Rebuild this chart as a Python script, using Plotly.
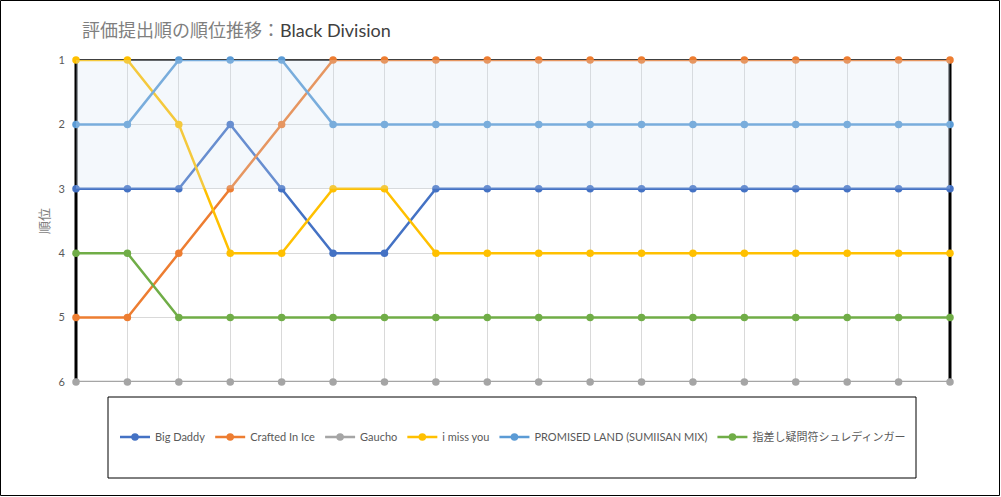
import plotly.graph_objects as go

# データ：評価提出順（18回）ごとの順位
steps = list(range(18))
names = ["Big Daddy", "Crafted In Ice", "Gaucho", "i miss you",
         "PROMISED LAND (SUMIISAN MIX)", "指差し疑問符シュレディンガー"]
big_daddy = [3, 3, 3, 2, 3, 4, 4, 3, 3, 3, 3, 3, 3, 3, 3, 3, 3, 3]
crafted_in_ice = [5, 5, 4, 3, 2, 1, 1, 1, 1, 1, 1, 1, 1, 1, 1, 1, 1, 1]
gaucho = [6, 6, 6, 6, 6, 6, 6, 6, 6, 6, 6, 6, 6, 6, 6, 6, 6, 6]
i_miss_you = [1, 1, 2, 4, 4, 3, 3, 4, 4, 4, 4, 4, 4, 4, 4, 4, 4, 4]
promised_land = [2, 2, 1, 1, 1, 2, 2, 2, 2, 2, 2, 2, 2, 2, 2, 2, 2, 2]
yubisashi = [4, 4, 5, 5, 5, 5, 5, 5, 5, 5, 5, 5, 5, 5, 5, 5, 5, 5]
rank_ticks = [1, 2, 3, 4, 5, 6]

series = [big_daddy, crafted_in_ice, gaucho, i_miss_you, promised_land, yubisashi]
colors = ["#4472C4", "#ED7D31", "#A5A5A5", "#FFC000", "#5B9BD5", "#70AD47"]

FONT = "Lato, 'Noto Sans CJK JP', sans-serif"

# プロット領域（ピクセル）
W, H = 1001, 497
L, R, T, B = 76, 950, 60, 382
pw, ph = R - L, B - T


def px(x):
    return (x - L) / pw


def py(y):
    return (B - y) / ph


fig = go.Figure()

for name, vals, col in zip(names, series, colors):
    fig.add_trace(go.Scatter(
        x=steps, y=vals, name=name, mode="lines+markers",
        line=dict(color=col, width=2.5),
        marker=dict(color=col, size=7.5),
        cliponaxis=False,
    ))

shapes = [
    # 上端の濃い線（系列の下）
    dict(type="line", xref="paper", yref="paper", x0=0, x1=1, y0=1, y1=1,
         line=dict(color="#404040", width=2), layer="between"),
    # 左右の黒い縦線
    dict(type="line", xref="paper", yref="paper", x0=0, x1=0, y0=0, y1=1,
         line=dict(color="black", width=3), layer="between"),
    dict(type="line", xref="paper", yref="paper", x0=1, x1=1, y0=0, y1=1,
         line=dict(color="black", width=3), layer="between"),
    # 1〜3位の帯
    dict(type="rect", xref="x", yref="y", x0=steps[0], x1=steps[-1], y0=1, y1=3,
         fillcolor="rgba(211,227,243,0.25)", line=dict(width=0), layer="above"),
    # 凡例枠
    dict(type="rect", xref="paper", yref="paper", x0=px(108), x1=px(916),
         y0=py(478), y1=py(397), line=dict(color="black", width=1),
         fillcolor="rgba(0,0,0,0)", layer="above"),
    # 外枠
    dict(type="rect", xref="paper", yref="paper", x0=px(0.5), x1=px(W - 1.5),
         y0=py(H - 1.5), y1=py(0.5), line=dict(color="black", width=1),
         fillcolor="rgba(0,0,0,0)", layer="above"),
]

fig.update_layout(
    width=W, height=H,
    margin=dict(l=L, r=W - R, t=T, b=H - B, pad=0),
    paper_bgcolor="white", plot_bgcolor="white",
    font=dict(family=FONT, color="#595959", size=11),
    title=dict(
        text="<span style='color:#7f7f7f'>評価提出順の順位推移：</span>"
             "<span style='color:#404040'>Black Division</span>",
        x=82 / W, xanchor="left", xref="container",
        y=1 - 31 / H, yanchor="middle", yref="container",
        font=dict(family=FONT, size=18),
    ),
    xaxis=dict(range=[steps[0], steps[-1]], tickvals=steps, showticklabels=False,
               showgrid=True, gridcolor="#d9d9d9", gridwidth=1,
               zeroline=False, showline=False, ticks=""),
    yaxis=dict(range=[6, 1], tickvals=rank_ticks, showgrid=True,
               gridcolor="#d9d9d9", gridwidth=1, zeroline=False,
               showline=False, ticks="", ticklabelstandoff=10,
               tickfont=dict(size=11, color="#595959"),
               title=dict(text="順位", standoff=6,
                          font=dict(size=13, color="#7f7f7f"))),
    shapes=shapes,
    showlegend=True,
    legend=dict(orientation="h", x=0.5, xanchor="center", y=py(437),
                yanchor="middle", font=dict(size=11, color="#595959"),
                bgcolor="rgba(0,0,0,0)", itemwidth=30, tracegroupgap=0),
)

fig.write_html("out.html", config={"displayModeBar": False},
               post_script="document.body.style.margin='0';")
